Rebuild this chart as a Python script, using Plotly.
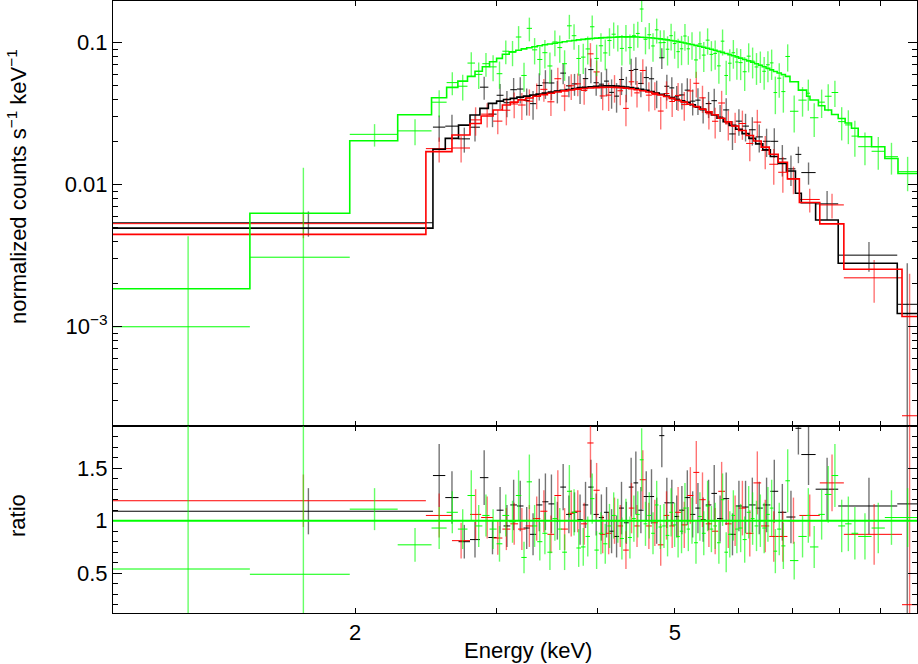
import numpy as np
import plotly.graph_objects as go

# ---------------- data (energies in keV) ----------------
# MOS1 (black)
mos1_edges = [1.00, 2.50, 2.59, 2.69, 2.78, 2.86, 2.93, 3.00, 3.06, 3.12, 3.18, 3.24, 3.30, 3.36, 3.42,
              3.48, 3.54, 3.60, 3.66, 3.72, 3.78, 3.84, 3.90, 3.96, 4.02, 4.08, 4.14, 4.20, 4.26, 4.32,
              4.38, 4.44, 4.50, 4.57, 4.64, 4.71, 4.78, 4.85, 4.92, 4.99, 5.06, 5.14, 5.22, 5.30, 5.38,
              5.46, 5.55, 5.64, 5.74, 5.84, 5.95, 6.06, 6.18, 6.30, 6.43, 6.57, 6.72, 6.88, 7.06, 7.18,
              7.48, 7.98, 9.45, 10.0]
mos1_model = [0.00495, 0.0178, 0.0212, 0.0263, 0.0310, 0.0345, 0.0374, 0.0388, 0.0398, 0.0406, 0.0414,
              0.0421, 0.0428, 0.0435, 0.0442, 0.0449, 0.0456, 0.0463, 0.0469, 0.0475,
              0.0481, 0.0486, 0.0490, 0.0493, 0.0496, 0.0497, 0.0497, 0.0495, 0.0492, 0.0488,
              0.0483, 0.0477, 0.0470, 0.0462, 0.0453, 0.0443, 0.0433, 0.0422, 0.0411, 0.0400,
              0.0390, 0.0380, 0.0366, 0.0352, 0.0338, 0.0324, 0.0310, 0.0294, 0.0278, 0.0262,
              0.0246, 0.0229, 0.0212, 0.0194, 0.0176, 0.0158, 0.0141, 0.0125, 0.0087, 0.00747,
              0.00564, 0.00280, 0.00124]
mos1_ratio = [1.09, 1.43, 1.22, 0.80, 0.82, 1.41, 0.84, 1.10, 0.95, 1.15, 1.14, 0.93, 0.87, 1.15, 1.18,
              1.16, 1.00, 1.32, 1.06, 1.08,
              1.01, 1.15, 1.32, 1.06, 1.03, 1.08, 0.90, 0.85, 1.12, 0.98,
              1.32, 1.36, 1.10, 1.23, 1.23, 1.00, 1.81, 1.17, 1.17, 1.04,
              1.10, 1.22, 1.06, 1.12, 1.01, 1.15, 1.26, 1.02, 1.21, 0.87,
              1.14, 1.13, 1.15, 1.12, 1.15, 1.28, 1.08, 1.035, 1.88, 1.63,
              1.30, 1.14, 1.16]
mos1_rerr = [0.22, 0.30, 0.25, 0.16, 0.17, 0.26, 0.16, 0.22, 0.20, 0.24, 0.24, 0.20, 0.20, 0.25, 0.27,
             0.28, 0.18, 0.22, 0.18, 0.19,
             0.24, 0.22, 0.26, 0.20, 0.22, 0.24, 0.21, 0.20, 0.25, 0.20,
             0.28, 0.30, 0.22, 0.24, 0.26, 0.22, 0.30, 0.24, 0.22, 0.20,
             0.23, 0.26, 0.22, 0.24, 0.21, 0.24, 0.27, 0.22, 0.25, 0.20,
             0.24, 0.25, 0.26, 0.25, 0.26, 0.30, 0.27, 0.25, 0.25, 0.29,
             0.30, 0.27, 1.10]

# MOS2 (red)
mos2_edges = [1.00, 2.45, 2.64, 2.78, 2.87, 2.97, 3.05, 3.12, 3.19, 3.26, 3.33, 3.40, 3.47, 3.54, 3.61,
              3.68, 3.75, 3.82, 3.89, 3.96, 4.03, 4.10, 4.17, 4.24, 4.31, 4.38, 4.45, 4.52, 4.60, 4.68,
              4.76, 4.84, 4.92, 5.00, 5.09, 5.18, 5.27, 5.36, 5.46, 5.56, 5.66, 5.77, 5.88, 6.00, 6.13,
              6.26, 6.40, 6.55, 6.72, 6.90, 7.14, 7.57, 8.11, 9.58, 10.0]
mos2_model = [0.00447, 0.0171, 0.0224, 0.0270, 0.0305, 0.0336, 0.0364, 0.0382, 0.0396, 0.0408,
              0.0420, 0.0431, 0.0441, 0.0450, 0.0458, 0.0465, 0.0471, 0.0476, 0.0480, 0.0483,
              0.0485, 0.0486, 0.0485, 0.0483, 0.0479, 0.0474, 0.0467, 0.0459, 0.0450, 0.0440,
              0.0429, 0.0418, 0.0406, 0.0394, 0.0382, 0.0369, 0.0355, 0.0341, 0.0326, 0.0311,
              0.0294, 0.0277, 0.0259, 0.0241, 0.0222, 0.0203, 0.0184, 0.0164, 0.0144, 0.0110,
              0.0075, 0.0053, 0.00254, 0.00118]
mos2_ratio = [1.19, 1.05, 0.81, 1.06, 1.03, 0.835, 0.92, 0.97, 0.92, 0.95,
              1.02, 1.09, 0.87, 1.24, 0.92, 1.07, 1.09, 0.97, 1.74, 1.29,
              0.87, 0.88, 1.00, 0.95, 0.72, 1.12, 0.95, 1.39, 0.95, 0.98,
              0.77, 1.05, 0.95, 1.08, 0.96, 1.24, 1.46, 1.20, 0.97, 0.90,
              1.28, 0.97, 1.00, 1.12, 0.88, 1.36, 0.95, 0.85, 0.85, 1.00,
              1.05, 1.36, 0.87, 0.20]
mos2_rerr = [0.25, 0.21, 0.17, 0.24, 0.20, 0.16, 0.20, 0.20, 0.20, 0.20,
             0.21, 0.20, 0.18, 0.24, 0.20, 0.22, 0.20, 0.20, 0.33, 0.26,
             0.18, 0.20, 0.22, 0.20, 0.18, 0.24, 0.20, 0.28, 0.22, 0.22,
             0.20, 0.23, 0.21, 0.24, 0.22, 0.27, 0.30, 0.26, 0.22, 0.22,
             0.28, 0.23, 0.24, 0.26, 0.22, 0.30, 0.25, 0.24, 0.24, 0.22,
             0.20, 0.27, 0.29, 1.80]

# pn (green)
pn_edges = [1.00, 1.48, 1.97, 2.26, 2.49, 2.60, 2.685, 2.76, 2.82, 2.88, 2.94, 3.00, 3.05, 3.11, 3.17,
            3.22, 3.27, 3.32, 3.37, 3.42, 3.47, 3.52, 3.57, 3.62, 3.67, 3.72, 3.77, 3.82, 3.87, 3.92,
            3.97, 4.02, 4.07, 4.12, 4.17, 4.22, 4.27, 4.32, 4.37, 4.42, 4.47, 4.52, 4.57, 4.62, 4.67,
            4.72, 4.77, 4.82, 4.87, 4.92, 4.97, 5.02, 5.07, 5.12, 5.17, 5.22, 5.28, 5.34, 5.40, 5.46,
            5.52, 5.58, 5.64, 5.70, 5.76, 5.82, 5.88, 5.94, 6.00, 6.07, 6.14, 6.21, 6.28, 6.35, 6.42,
            6.49, 6.56, 6.63, 6.70, 6.78, 6.86, 6.95, 7.12, 7.29, 7.36, 7.54, 7.68, 7.83, 7.98, 8.14,
            8.29, 8.45, 8.78, 9.12, 9.47, 10.0]
pn_model = [0.00185, 0.0063, 0.0204, 0.0311, 0.0410, 0.0485, 0.0537, 0.0580, 0.0630, 0.0678,
            0.0735, 0.0776, 0.0830, 0.0865, 0.0885, 0.0905, 0.0922, 0.0938, 0.0953, 0.0967,
            0.0980, 0.0993, 0.1005, 0.1017, 0.1028, 0.1038, 0.1047, 0.1056, 0.1064, 0.1071,
            0.1077, 0.1082, 0.1087, 0.1091, 0.1094, 0.1097, 0.1099, 0.1100, 0.1100, 0.1099,
            0.1097, 0.1094, 0.1090, 0.1085, 0.1079, 0.1072, 0.1064, 0.1056, 0.1047, 0.1038,
            0.1028, 0.1018, 0.1007, 0.0996, 0.0985, 0.0972, 0.0958, 0.0944, 0.0930, 0.0915,
            0.0900, 0.0885, 0.0870, 0.0855, 0.0840, 0.0825, 0.0810, 0.0795, 0.0779, 0.0762,
            0.0745, 0.0728, 0.0711, 0.0694, 0.0677, 0.0660, 0.0644, 0.0628, 0.0612, 0.0596,
            0.0580, 0.0531, 0.0464, 0.0420, 0.0395, 0.0360, 0.0336, 0.0312, 0.0293, 0.0272,
            0.0250, 0.0218, 0.0185, 0.0153, 0.0120]
pn_ratio = [0.54, 0.49, 1.11, 0.77, 0.93, 1.08, 0.92, 1.24, 0.95, 1.05,
            0.92, 0.78, 1.05, 0.99, 1.24, 0.65, 1.37, 0.95, 0.80, 0.88,
            0.70, 1.02, 0.92, 0.70, 1.28, 1.08, 0.74, 0.75, 0.85, 1.21,
            0.72, 0.88, 0.78, 0.95, 1.05, 1.00, 0.83, 1.00, 0.84, 1.02,
            1.06, 1.58, 0.97, 1.05, 0.88, 1.15, 0.94, 0.95, 0.86, 1.08,
            0.96, 0.85, 0.90, 1.12, 0.92, 1.00, 0.79, 1.04, 0.88, 1.14,
            0.92, 0.95, 0.79, 1.20, 0.70, 0.87, 1.05, 0.92, 0.93, 0.82,
            1.08, 1.02, 0.95, 1.00, 0.93, 1.06, 1.12, 0.71, 0.92, 0.76,
            1.38, 0.62, 0.85, 1.05, 0.75, 1.06, 1.25, 1.43, 0.95, 0.97,
            0.88, 0.85, 0.93, 1.03, 1.03]
pn_rerr = [1.80, 1.60, 0.20, 0.16, 0.20, 0.20, 0.19, 0.24, 0.20, 0.20,
           0.19, 0.17, 0.20, 0.20, 0.24, 0.15, 0.26, 0.20, 0.18, 0.20,
           0.17, 0.21, 0.20, 0.17, 0.25, 0.22, 0.18, 0.18, 0.19, 0.24,
           0.18, 0.20, 0.19, 0.21, 0.22, 0.21, 0.20, 0.21, 0.20, 0.22,
           0.22, 0.30, 0.21, 0.22, 0.20, 0.23, 0.21, 0.21, 0.20, 0.23,
           0.21, 0.20, 0.21, 0.24, 0.21, 0.22, 0.20, 0.23, 0.21, 0.24,
           0.22, 0.22, 0.20, 0.25, 0.19, 0.22, 0.24, 0.23, 0.23, 0.22,
           0.25, 0.25, 0.24, 0.25, 0.24, 0.26, 0.27, 0.21, 0.25, 0.22,
           0.30, 0.18, 0.20, 0.26, 0.20, 0.24, 0.27, 0.30, 0.25, 0.26,
           0.25, 0.22, 0.24, 0.26, 0.28]

# axis ticks
x_tickvals = [2, 5]
x_ticktext = ["2", "5"]
x_minorvals = [3, 4, 6, 7, 8, 9]
y_tickvals = [1e-3, 1e-2, 1e-1]
y_ticktext = ["10<sup>−3</sup>", "0.01", "0.1"]
y_minorvals = [3e-4, 4e-4, 5e-4, 6e-4, 7e-4, 8e-4, 9e-4,
               2e-3, 3e-3, 4e-3, 5e-3, 6e-3, 7e-3, 8e-3, 9e-3,
               0.02, 0.03, 0.04, 0.05, 0.06, 0.07, 0.08, 0.09, 0.2]
r_tickvals = [0.5, 1, 1.5]
r_ticktext = ["0.5", "1", "1.5"]

FONT = "Liberation Sans, Arial, Helvetica, sans-serif"
sets = [
    (mos1_edges, mos1_model, mos1_ratio, mos1_rerr, "#000000", "rgba(0,0,0,0.55)"),
    (mos2_edges, mos2_model, mos2_ratio, mos2_rerr, "#ff0000", "rgba(255,0,0,0.55)"),
    (pn_edges, pn_model, pn_ratio, pn_rerr, "#00ff00", "rgba(0,255,0,0.6)"),
]

fig = go.Figure()
models = []
for edges, model, ratio, rerr, col, colv in sets:
    e = np.asarray(edges, float)
    lo, hi = e[:-1], e[1:]
    ctr = 0.5 * (lo + hi)
    m = np.asarray(model, float)
    r = np.asarray(ratio, float)
    re = np.asarray(rerr, float)
    d = r * m
    de = re * m
    ex = dict(type="data", symmetric=False, array=hi - ctr, arrayminus=ctr - lo,
              width=0, thickness=1, color=col)
    common = dict(mode="markers", marker=dict(size=1, opacity=0), showlegend=False, hoverinfo="skip")
    fig.add_trace(go.Scatter(x=ctr, y=d, error_x=ex,
                             error_y=dict(type="data", array=de, width=0, thickness=1.4, color=colv),
                             xaxis="x", yaxis="y", **common))
    fig.add_trace(go.Scatter(x=ctr, y=r, error_x=ex,
                             error_y=dict(type="data", array=re, width=0, thickness=1.4, color=colv),
                             xaxis="x2", yaxis="y2", **common))
    models.append((lo, hi, m, col))

for lo, hi, m, col in models:
    fig.add_trace(go.Scatter(x=np.append(lo, hi[-1]), y=np.append(m, m[-1]), mode="lines",
                             line=dict(shape="hv", width=1.6, color=col),
                             xaxis="x", yaxis="y", showlegend=False, hoverinfo="skip"))

fig.add_shape(type="line", xref="x2 domain", yref="y2", x0=0, x1=1, y0=1, y1=1,
              line=dict(color="#00ff00", width=2), layer="above")

ax = dict(showline=True, linecolor="black", linewidth=1, mirror="allticks", ticks="inside",
          tickcolor="black", tickwidth=1, showgrid=False, zeroline=False,
          tickfont=dict(family=FONT, size=22, color="black"))
xminor = dict(tickvals=x_minorvals, ticklen=5, ticks="inside", tickcolor="black")

fig.update_layout(
    width=918, height=664,
    margin=dict(l=113, r=1, t=1, b=51),
    paper_bgcolor="white", plot_bgcolor="white", showlegend=False,
    font=dict(family=FONT, size=22, color="black"),
    xaxis=dict(type="log", range=[0, 1], domain=[0, 1], anchor="y", tickvals=x_tickvals,
               showticklabels=False, ticklen=5, minor=xminor, matches="x2", **ax),
    xaxis2=dict(type="log", range=[0, 1], domain=[0, 1], anchor="y2", tickvals=x_tickvals,
                ticktext=x_ticktext, ticklen=5, minor=xminor, **ax),
    yaxis=dict(type="log", range=[-3.699, -0.706], domain=[0.3056, 1], anchor="x",
               tickvals=y_tickvals, ticktext=y_ticktext, ticklen=9,
               minor=dict(tickvals=y_minorvals, ticklen=5, ticks="inside", tickcolor="black"), **ax),
    yaxis2=dict(range=[0.121, 1.902], domain=[0, 0.3056], anchor="x2",
                tickvals=r_tickvals, ticktext=r_ticktext, ticklen=9,
                minor=dict(dtick=0.1, tick0=0, ticklen=5, ticks="inside", tickcolor="black"), **ax),
    annotations=[
        dict(text="normalized counts s<sup>−1</sup> keV<sup>−1</sup>", textangle=-90,
             xref="paper", yref="paper", x=(17 - 113) / 804, y=(613 - 187) / 612,
             xanchor="center", yanchor="middle", showarrow=False,
             font=dict(family=FONT, size=22, color="black")),
        dict(text="ratio", textangle=-90,
             xref="paper", yref="paper", x=(17 - 113) / 804, y=(613 - 516) / 612,
             xanchor="center", yanchor="middle", showarrow=False,
             font=dict(family=FONT, size=22, color="black")),
        dict(text="Energy (keV)", xref="paper", yref="paper",
             x=(528 - 113) / 804, y=(613 - 650) / 612,
             xanchor="center", yanchor="middle", showarrow=False,
             font=dict(family=FONT, size=22, color="black")),
    ],
)

fig.write_html("out.html", config={"displayModeBar": False},
               post_script="document.body.style.margin='0px';document.body.style.overflow='hidden';")
